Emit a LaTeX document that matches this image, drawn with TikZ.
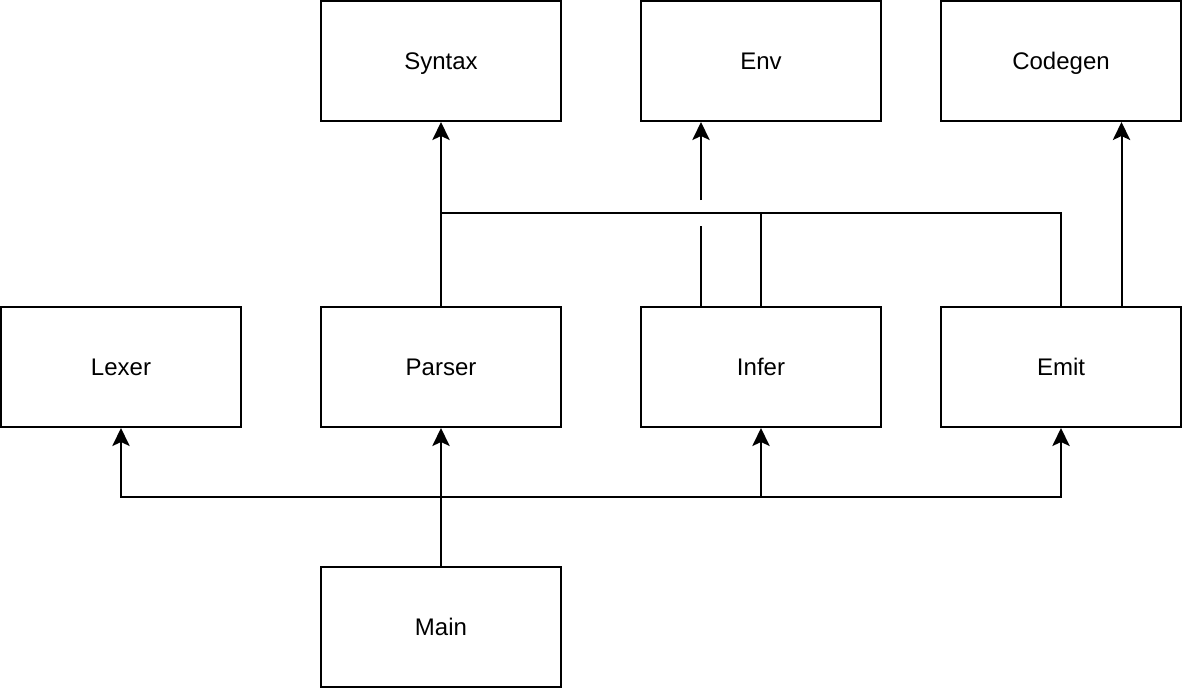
\documentclass[tikz,border=0pt]{standalone}
\usepackage{fontspec}
\setmainfont{Liberation Sans}
\usetikzlibrary{arrows.meta,calc}

\begin{document}
\begin{tikzpicture}[x=0.75pt,y=-0.75pt,line width=1.5pt,
		dep/.style={-{Stealth[length=13.5pt,width=13pt,inset=3pt]}},
		module/.style={draw,minimum width=180pt,minimum height=90pt,inner sep=0pt,
			text height=13pt,text depth=0pt,font=\fontsize{18pt}{20pt}\selectfont}]
		\useasboundingbox (0,0) rectangle (1182,690);
		\node[module] (syntax) at (441,61) {Syntax};
		\node[module] (env) at (761,61) {Env};
		\node[module] (codegen) at (1061,61) {Codegen};
		\node[module] (lexer) at (121,367) {Lexer};
		\node[module] (parser) at (441,367) {Parser};
		\node[module] (infer) at (761,367) {Infer};
		\node[module] (emit) at (1061,367) {Emit};
		\node[module] (main) at (441,627) {Main};
		\coordinate (split) at (441,497);
		\coordinate (join) at (441,213);
		\coordinate (hopbelow) at (701,226);
		\coordinate (hopabove) at (701,200);
		\draw[dep] (main.north) -- (split) -| (lexer.south);
		\draw[dep] (split) -- (parser.south);
		\draw[dep] (split) -| (infer.south);
		\draw[dep] (split) -| (emit.south);
		\draw[dep] (parser.north) -- (syntax.south);
		\draw (infer.north) |- (join);
		\draw (emit.north) |- (join);
		\draw (hopbelow |- infer.north) -- (hopbelow);
		\draw[dep] (hopabove) -- (hopabove |- env.south);
		\draw[dep] ($(emit.north west)!0.75!(emit.north east)$) -- ($(codegen.south west)!0.75!(codegen.south east)$);
	\end{tikzpicture}
\end{document}
